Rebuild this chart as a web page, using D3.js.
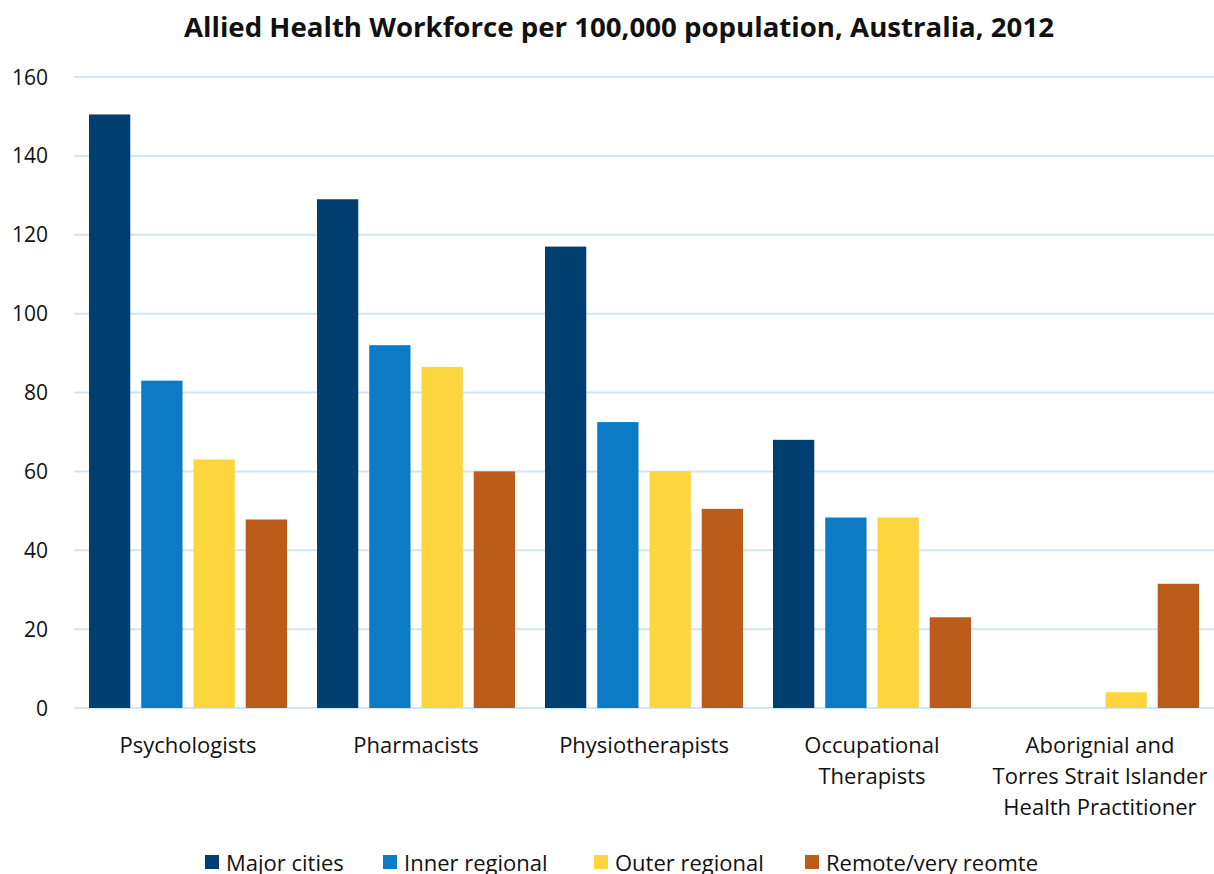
<!DOCTYPE html>
<html>
<head>
<meta charset="utf-8">
<script src="https://cdn.jsdelivr.net/npm/d3@7/dist/d3.min.js"></script>
<style>
  body { margin: 0; background: #fff; }
  text { font-family: "Open Sans", "Noto Sans", sans-serif; fill: #111; }
</style>
</head>
<body>
<svg id="chart" width="1214" height="874"></svg>
<script>
// categories and series
var categories = ["Psychologists", "Pharmacists", "Physiotherapists",
    "Occupational\nTherapists", "Aborignial and\nTorres Strait Islander\nHealth Practitioner"];
var seriesNames = ["Major cities", "Inner regional", "Outer regional", "Remote/very reomte"];
var majorCities   = [150.5, 129, 117, 68, 0];
var innerRegional = [83, 92, 72.5, 48.3, 0];
var outerRegional = [63, 86.5, 60, 48.3, 4];
var remote        = [47.8, 60, 50.5, 23, 31.5];
var yTicks = [0, 20, 40, 60, 80, 100, 120, 140, 160];
var colors = ["#023f71", "#0b7bc5", "#fdd53c", "#bb5c1a"];

var values = [majorCities, innerRegional, outerRegional, remote];

var svg = d3.select("#chart");
var plotLeft = 74, plotRight = 1214, plotTop = 77, plotBottom = 708;

var x0 = d3.scaleBand().domain(d3.range(categories.length)).range([plotLeft, plotRight]).paddingInner(0).paddingOuter(0);
var x1 = d3.scaleBand().domain(d3.range(seriesNames.length))
    .range([15, x0.bandwidth() - 15]).paddingInner(0.21).paddingOuter(0);
var y = d3.scaleLinear().domain([0, 160]).range([plotBottom, plotTop]);

// title
svg.append("text")
    .attr("x", 619).attr("y", 37)
    .attr("text-anchor", "middle")
    .style("font-size", "26px").style("font-weight", "bold")
    .attr("textLength", 870).attr("lengthAdjust", "spacingAndGlyphs")
    .text("Allied Health Workforce per 100,000 population, Australia, 2012");

// gridlines
svg.append("g").selectAll("line")
    .data(yTicks).enter().append("line")
    .attr("x1", plotLeft).attr("x2", plotRight)
    .attr("y1", function(d){ return y(d); })
    .attr("y2", function(d){ return y(d); })
    .attr("stroke", "#cfe5f8").attr("stroke-width", 2);

// y tick labels
svg.append("g").selectAll("text")
    .data(yTicks).enter().append("text")
    .attr("x", 48)
    .attr("y", function(d){ return y(d); })
    .attr("dy", "0.36em")
    .attr("text-anchor", "end")
    .style("font-size", "21px")
    .text(function(d){ return d; });

// bars
var groups = svg.append("g").selectAll("g")
    .data(categories).enter().append("g")
    .attr("transform", function(d, i){ return "translate(" + x0(i) + ",0)"; });

groups.selectAll("rect")
    .data(function(d, i){ return values.map(function(s, j){ return {s: j, v: s[i]}; }); })
    .enter().append("rect")
    .attr("x", function(d){ return x1(d.s); })
    .attr("width", x1.bandwidth())
    .attr("y", function(d){ return y(d.v); })
    .attr("height", function(d){ return y(0) - y(d.v); })
    .attr("fill", function(d){ return colors[d.s]; });

// category labels
groups.each(function(d){
    var lines = d.split("\n");
    var t = d3.select(this).append("text")
        .attr("text-anchor", "middle")
        .style("font-size", "22px");
    lines.forEach(function(l, k){
        t.append("tspan")
            .attr("x", x0.bandwidth() / 2)
            .attr("y", 753 + k * 31)
            .text(l);
    });
});

// legend
var legendX = [205, 383, 594, 805];
var legend = svg.append("g").selectAll("g")
    .data(seriesNames).enter().append("g")
    .attr("transform", function(d, i){ return "translate(" + legendX[i] + ",855)"; });
legend.append("rect")
    .attr("width", 14).attr("height", 14)
    .attr("fill", function(d, i){ return colors[i]; });
legend.append("text")
    .attr("x", 21).attr("y", 16)
    .style("font-size", "22px")
    .text(function(d){ return d; });
</script>
</body>
</html>
